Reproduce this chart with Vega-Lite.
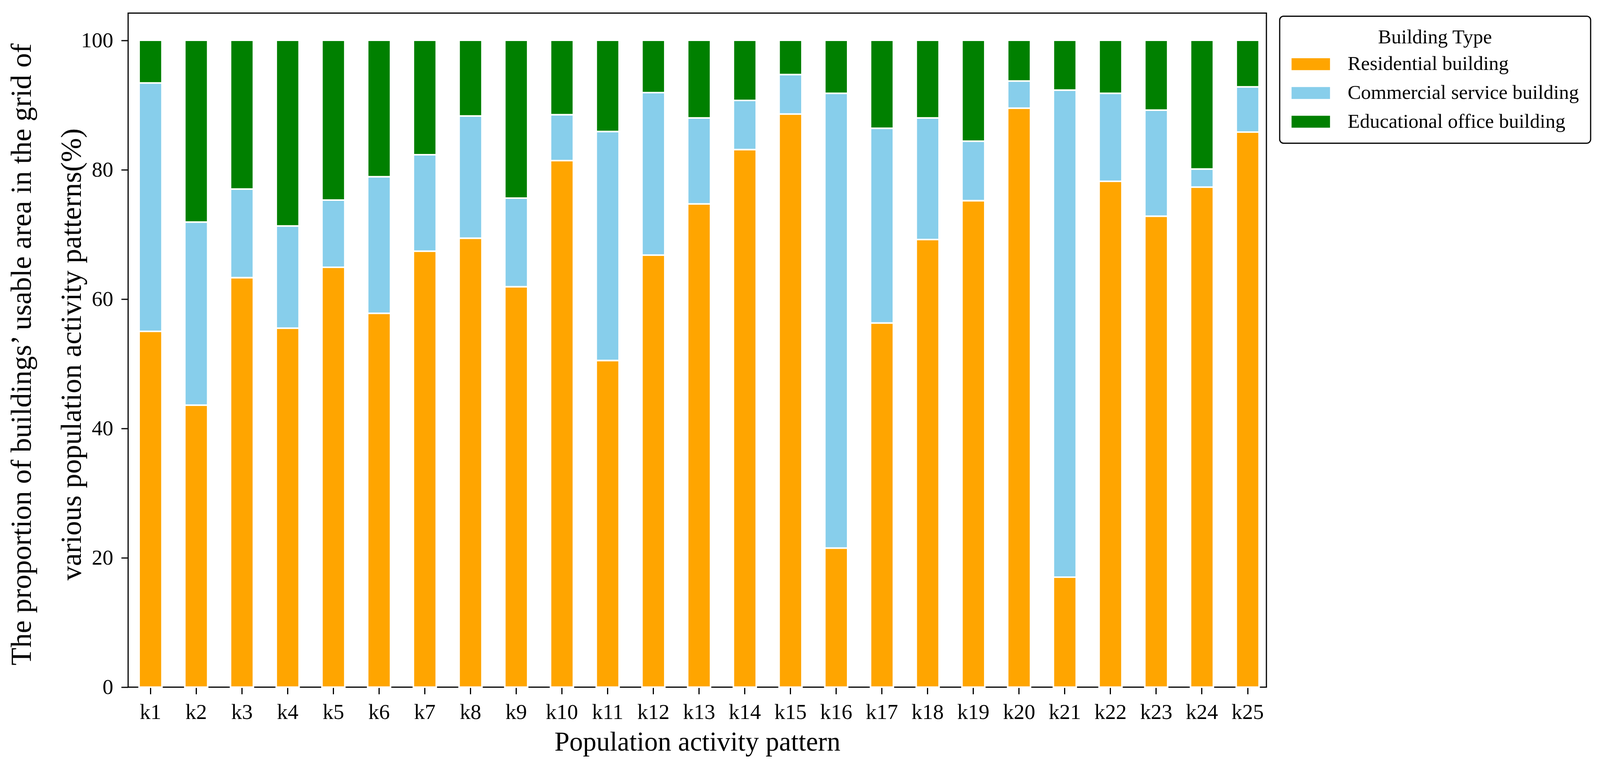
{
  "$schema": "https://vega.github.io/schema/vega-lite/v6.json",
  "width": 2914,
  "height": 1725,
  "autosize": {"type": "none"},
  "padding": {"left": 328, "top": 33.5, "right": 854, "bottom": 200.5},
  "background": "white",
  "config": {
    "view": {"stroke": "black", "strokeWidth": 3},
    "font": "Liberation Serif",
    "axis": {
      "domain": false,
      "grid": false,
      "ticks": true,
      "tickColor": "black",
      "tickWidth": 3,
      "tickSize": 17.7,
      "labelFont": "Liberation Serif",
      "labelFontSize": 55,
      "labelColor": "black",
      "labelPadding": 20.7,
      "titleFont": "Liberation Serif",
      "titleFontWeight": "normal",
      "titleColor": "black"
    },
    "legend": {
      "orient": "none",
      "legendX": 2948,
      "legendY": 8,
      "strokeColor": "black",
      "strokeWidth": 3,
      "cornerRadius": 10,
      "padding": 29.5,
      "fillColor": "white",
      "titleFont": "Liberation Serif",
      "titleFontSize": 51,
      "titleFontWeight": "normal",
      "titleColor": "black",
      "titleAnchor": "middle",
      "titlePadding": 16.7,
      "titleLimit": 2000,
      "labelFont": "Liberation Serif",
      "labelFontSize": 51,
      "labelColor": "black",
      "labelOffset": 69,
      "labelLimit": 2000,
      "symbolType": "M-2,-0.62H2V0.62H-2Z",
      "symbolSize": 2421,
      "symbolOffset": 24.6,
      "symbolStrokeWidth": 0,
      "symbolOpacity": 1,
      "rowPadding": 21.7
    }
  },
  "data": {
    "values": [
      {"k": "k1", "type": "Residential building", "v": 55.0},
      {"k": "k1", "type": "Commercial service building", "v": 38.4},
      {"k": "k1", "type": "Educational office building", "v": 6.6},
      {"k": "k2", "type": "Residential building", "v": 43.6},
      {"k": "k2", "type": "Commercial service building", "v": 28.3},
      {"k": "k2", "type": "Educational office building", "v": 28.1},
      {"k": "k3", "type": "Residential building", "v": 63.3},
      {"k": "k3", "type": "Commercial service building", "v": 13.7},
      {"k": "k3", "type": "Educational office building", "v": 23.0},
      {"k": "k4", "type": "Residential building", "v": 55.5},
      {"k": "k4", "type": "Commercial service building", "v": 15.8},
      {"k": "k4", "type": "Educational office building", "v": 28.7},
      {"k": "k5", "type": "Residential building", "v": 64.9},
      {"k": "k5", "type": "Commercial service building", "v": 10.4},
      {"k": "k5", "type": "Educational office building", "v": 24.7},
      {"k": "k6", "type": "Residential building", "v": 57.8},
      {"k": "k6", "type": "Commercial service building", "v": 21.1},
      {"k": "k6", "type": "Educational office building", "v": 21.1},
      {"k": "k7", "type": "Residential building", "v": 67.4},
      {"k": "k7", "type": "Commercial service building", "v": 14.9},
      {"k": "k7", "type": "Educational office building", "v": 17.7},
      {"k": "k8", "type": "Residential building", "v": 69.4},
      {"k": "k8", "type": "Commercial service building", "v": 18.9},
      {"k": "k8", "type": "Educational office building", "v": 11.7},
      {"k": "k9", "type": "Residential building", "v": 61.9},
      {"k": "k9", "type": "Commercial service building", "v": 13.7},
      {"k": "k9", "type": "Educational office building", "v": 24.4},
      {"k": "k10", "type": "Residential building", "v": 81.4},
      {"k": "k10", "type": "Commercial service building", "v": 7.1},
      {"k": "k10", "type": "Educational office building", "v": 11.5},
      {"k": "k11", "type": "Residential building", "v": 50.5},
      {"k": "k11", "type": "Commercial service building", "v": 35.4},
      {"k": "k11", "type": "Educational office building", "v": 14.1},
      {"k": "k12", "type": "Residential building", "v": 66.8},
      {"k": "k12", "type": "Commercial service building", "v": 25.1},
      {"k": "k12", "type": "Educational office building", "v": 8.1},
      {"k": "k13", "type": "Residential building", "v": 74.7},
      {"k": "k13", "type": "Commercial service building", "v": 13.3},
      {"k": "k13", "type": "Educational office building", "v": 12.0},
      {"k": "k14", "type": "Residential building", "v": 83.1},
      {"k": "k14", "type": "Commercial service building", "v": 7.6},
      {"k": "k14", "type": "Educational office building", "v": 9.3},
      {"k": "k15", "type": "Residential building", "v": 88.6},
      {"k": "k15", "type": "Commercial service building", "v": 6.1},
      {"k": "k15", "type": "Educational office building", "v": 5.3},
      {"k": "k16", "type": "Residential building", "v": 21.5},
      {"k": "k16", "type": "Commercial service building", "v": 70.3},
      {"k": "k16", "type": "Educational office building", "v": 8.2},
      {"k": "k17", "type": "Residential building", "v": 56.3},
      {"k": "k17", "type": "Commercial service building", "v": 30.1},
      {"k": "k17", "type": "Educational office building", "v": 13.6},
      {"k": "k18", "type": "Residential building", "v": 69.2},
      {"k": "k18", "type": "Commercial service building", "v": 18.8},
      {"k": "k18", "type": "Educational office building", "v": 12.0},
      {"k": "k19", "type": "Residential building", "v": 75.2},
      {"k": "k19", "type": "Commercial service building", "v": 9.2},
      {"k": "k19", "type": "Educational office building", "v": 15.6},
      {"k": "k20", "type": "Residential building", "v": 89.5},
      {"k": "k20", "type": "Commercial service building", "v": 4.2},
      {"k": "k20", "type": "Educational office building", "v": 6.3},
      {"k": "k21", "type": "Residential building", "v": 17.0},
      {"k": "k21", "type": "Commercial service building", "v": 75.3},
      {"k": "k21", "type": "Educational office building", "v": 7.7},
      {"k": "k22", "type": "Residential building", "v": 78.2},
      {"k": "k22", "type": "Commercial service building", "v": 13.6},
      {"k": "k22", "type": "Educational office building", "v": 8.2},
      {"k": "k23", "type": "Residential building", "v": 72.8},
      {"k": "k23", "type": "Commercial service building", "v": 16.4},
      {"k": "k23", "type": "Educational office building", "v": 10.8},
      {"k": "k24", "type": "Residential building", "v": 77.3},
      {"k": "k24", "type": "Commercial service building", "v": 2.8},
      {"k": "k24", "type": "Educational office building", "v": 19.9},
      {"k": "k25", "type": "Residential building", "v": 85.8},
      {"k": "k25", "type": "Commercial service building", "v": 7.0},
      {"k": "k25", "type": "Educational office building", "v": 7.2}
    ]
  },
  "transform": [
    {"calculate": "indexof(['Residential building', 'Commercial service building', 'Educational office building'], datum.type)", "as": "stackOrder"}
  ],
  "mark": {"type": "bar", "stroke": "white", "strokeWidth": 4},
  "encoding": {
    "x": {
      "field": "k",
      "type": "nominal",
      "sort": null,
      "scale": {"paddingInner": 0.5, "paddingOuter": 0.2, "align": 0.6},
      "axis": {
        "title": "Population activity pattern",
        "titleFontSize": 69,
        "titleBaseline": "alphabetic",
        "titleY": 162.4,
        "labelAngle": 0
      }
    },
    "y": {
      "field": "v",
      "type": "quantitative",
      "stack": "zero",
      "scale": {"domain": [0, 104.2], "nice": false, "zero": true},
      "axis": {
        "values": [0, 20, 40, 60, 80, 100],
        "title": ["The proportion of buildings’ usable area in the grid of", "various population activity patterns(%)"],
        "titleFontSize": 74,
        "titleLineHeight": 128,
        "titleAngle": -90,
        "titleAlign": "center",
        "titleBaseline": "alphabetic",
        "titleX": -249.3,
        "titleY": 873
      }
    },
    "order": {"field": "stackOrder", "type": "quantitative", "sort": "ascending"},
    "color": {
      "field": "type",
      "type": "nominal",
      "scale": {
        "domain": ["Residential building", "Commercial service building", "Educational office building"],
        "range": ["#FFA500", "#87CEEB", "#008000"]
      },
      "legend": {"title": "Building Type"}
    }
  }
}
